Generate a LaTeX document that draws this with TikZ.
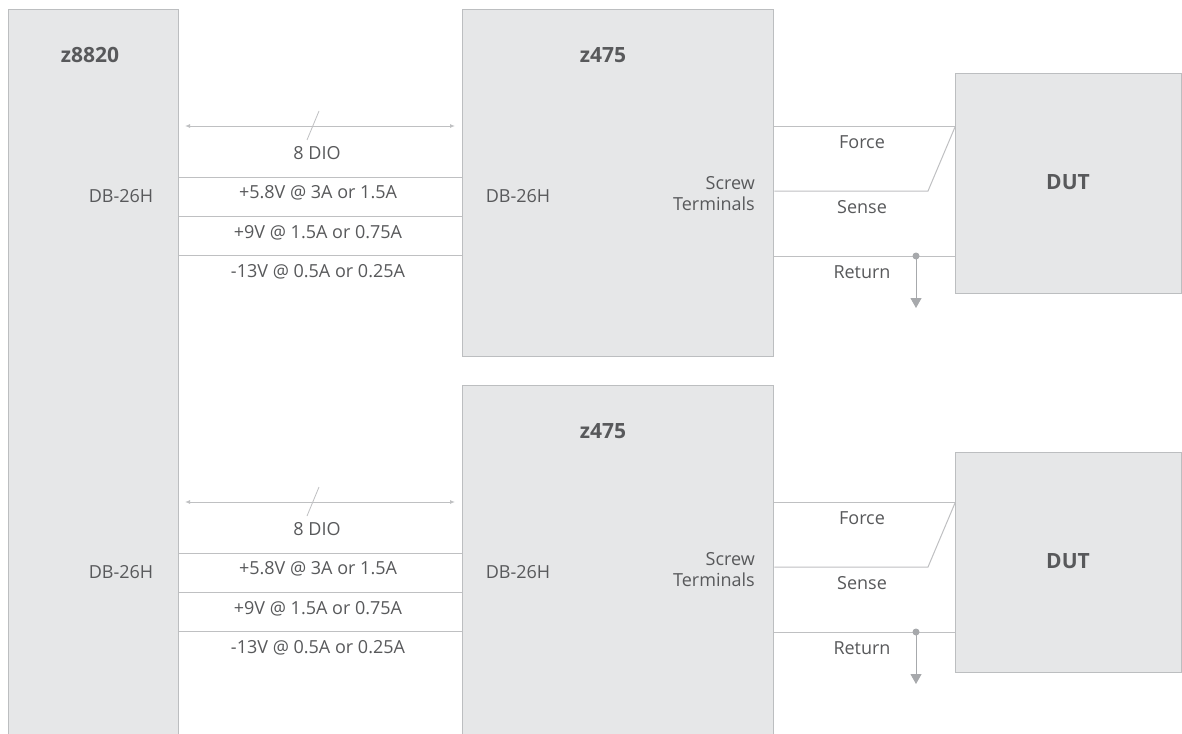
\documentclass[tikz,border=0pt]{standalone}
\usepackage{fontspec}
\setmainfont{Open Sans}
\usetikzlibrary{arrows.meta}
\definecolor{boxgray}{HTML}{E6E7E8}
\definecolor{bordergray}{HTML}{BCBEC0}
\definecolor{wiregray}{HTML}{BFC0C2}
\definecolor{txtgray}{HTML}{58595B}
\definecolor{dotgray}{HTML}{A7A9AC}
\tikzset{
  blockbox/.style={draw=bordergray, fill=boxgray, line width=1.3pt, inner sep=0pt, anchor=north west},
  wire/.style={draw=wiregray, line width=1pt},
  lbl/.style={text=txtgray, font=\fontsize{18}{21}\selectfont, inner sep=0pt},
  ttl/.style={text=txtgray, font=\bfseries\fontsize{21}{24}\selectfont, inner sep=0pt},
  gndarrow/.style={draw=dotgray, line width=1pt, -{Triangle[width=11pt,length=10pt]}, color=dotgray},
  dioarrow/.style={draw=wiregray, line width=1pt, {Latex[length=5pt,width=4pt]}-{Latex[length=5pt,width=4pt]}}
}
\begin{document}
\begin{tikzpicture}[x=1pt,y=-1pt]
\clip (0,0) rectangle (1182,733);
\fill[white] (0,0) rectangle (1182,733);
% main controller
\node[blockbox, minimum width=170pt, minimum height=760pt] (z8820) at (8,9) {};
\node[ttl] (z8820t) at (90,55) {z8820};
\foreach \i/\o/\od in {1/0/0, 2/376/379}{
  \node[blockbox, minimum width=311pt, minimum height={\ifnum\i=1 347pt\else 400pt\fi}] (z475\i) at (462,{9+\o}) {};
  \node[blockbox, minimum width=226pt, minimum height=220pt] (dut\i) at (955,{73+\od}) {};
  \node[ttl] (z475t\i) at (603,{55+\o}) {z475};
  \node[ttl] (dutt\i) at (1068,{182+\od}) {DUT};
  \node[lbl] (dbl\i) at (121,{196+\o}) {DB-26H};
  \node[lbl] (dbr\i) at (518,{196+\o}) {DB-26H};
  \node[lbl, align=right, anchor=east] (scr\i) at (755,{194+\o}) {Screw\\Terminals};
  % DIO bus
  \coordinate (dioL\i) at (185,{126+\o});
  \coordinate (dioR\i) at (455,{126+\o});
  \draw[dioarrow] (dioL\i) -- (dioR\i);
  \coordinate (slA\i) at (319,{111+\o});
  \coordinate (slB\i) at (307,{140+\o});
  \draw[wire, line width=0.8pt] (slA\i) -- (slB\i);
  \node[lbl] (dio\i) at (317,{153+\o}) {8 DIO};
  % supply lines
  \draw[wire] (z8820.east |- 0,{177+\o}) -- (z475\i.west |- 0,{177+\o});
  \draw[wire] (z8820.east |- 0,{216+\o}) -- (z475\i.west |- 0,{216+\o});
  \draw[wire] (z8820.east |- 0,{255+\o}) -- (z475\i.west |- 0,{255+\o});
  \node[lbl] (v1\i) at (318,{193+\o}) {+5.8V @ 3A or 1.5A};
  \node[lbl] (v2\i) at (318,{233+\o}) {+9V @ 1.5A or 0.75A};
  \node[lbl] (v3\i) at (318,{272+\o}) {-13V @ 0.5A or 0.25A};
  % force / sense / return
  \draw[wire] (z475\i.east |- 0,{126+\o}) -- (dut\i.west |- 0,{126+\o});
  \coordinate (sk\i) at (928,{191+\o});
  \draw[wire] (z475\i.east |- 0,{191+\o}) -- (sk\i) -- (dut\i.west |- 0,{127+\o});
  \draw[wire] (z475\i.east |- 0,{256+\o}) -- (dut\i.west |- 0,{256+\o});
  \node[lbl] (frc\i) at (862,{142+\o}) {Force};
  \node[lbl] (sns\i) at (862,{207+\o}) {Sense};
  \node[lbl] (ret\i) at (862,{272+\o}) {Return};
  \coordinate (gj\i) at (916,{256+\o});
  \coordinate (gnd\i) at (916,{308+\o});
  \draw[gndarrow] (gj\i) -- (gnd\i);
  \fill[dotgray] (gj\i) circle (3.5pt);
}
\end{tikzpicture}
\end{document}
